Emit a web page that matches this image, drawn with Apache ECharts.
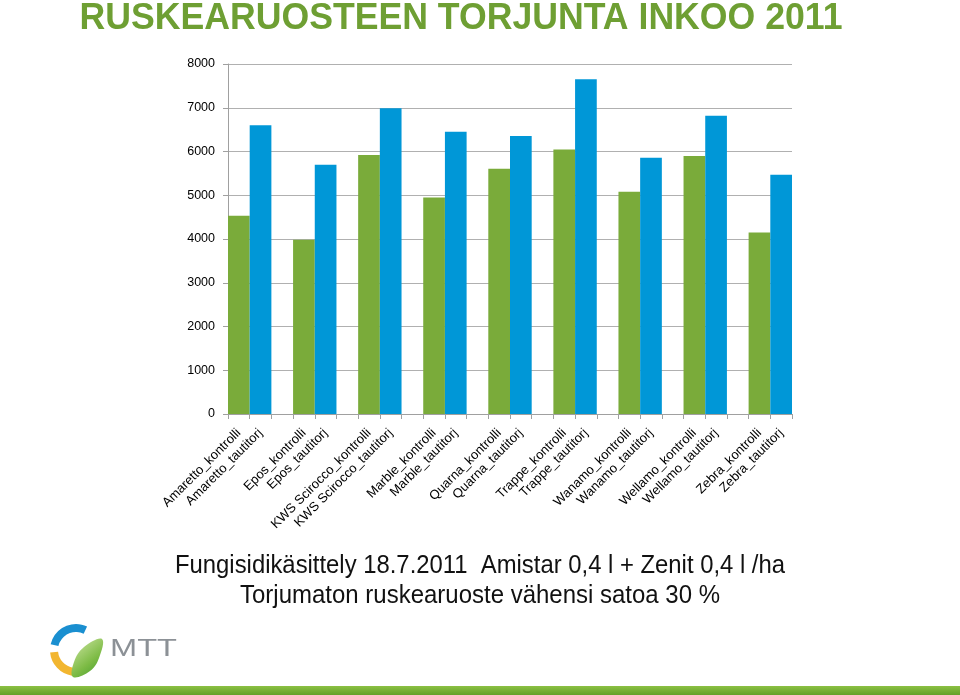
<!DOCTYPE html>
<html>
<head>
<meta charset="utf-8">
<script src="https://cdn.jsdelivr.net/npm/echarts@6/dist/echarts.min.js"></script>
<style>html,body{margin:0;padding:0;background:#fff;}#main{width:960px;height:695px;}</style>
</head>
<body>
<div id="main"></div>
<script>
var varieties = ['Amaretto', 'Epos', 'KWS Scirocco', 'Marble', 'Quarna', 'Trappe', 'Wanamo', 'Wellamo', 'Zebra'];
var kontrolli = [4530, 3985, 5920, 4950, 5605, 6045, 5080, 5900, 4150];
var tautitorj = [6600, 5700, 6990, 6450, 6355, 7650, 5860, 6820, 5470];
var yTicks = [0, 1000, 2000, 3000, 4000, 5000, 6000, 7000, 8000];
var titleText = 'RUSKEARUOSTEEN TORJUNTA INKOO 2011';
var subLine1 = 'Fungisidikäsittely 18.7.2011  Amistar 0,4 l + Zenit 0,4 l /ha';
var subLine2 = 'Torjumaton ruskearuoste vähensi satoa 30 %';

var categories = [], kData = [], tData = [];
varieties.forEach(function (v, i) {
  categories.push(v + '_kontrolli'); kData.push(kontrolli[i]); tData.push(null);
  categories.push(v + '_tautitorj'); kData.push(null); tData.push(tautitorj[i]);
  if (i < varieties.length - 1) { categories.push(' '.repeat(i + 1)); kData.push(null); tData.push(null); }
});

var ctx = document.createElement('canvas').getContext('2d');
function textWidth(t, font) { ctx.font = font; return ctx.measureText(t).width; }
var titleFont = 'bold 36px "Liberation Sans"';
var subFont = '25px "Liberation Sans"';
var mttFont = '23px "Liberation Sans"';
var titleScale = 763 / textWidth(titleText, titleFont);
var sub1Scale = 610 / textWidth(subLine1, subFont);
var sub2Scale = 480 / textWidth(subLine2, subFont);
var mttScale = 67 / textWidth('MTT', mttFont);

var chart = echarts.init(document.getElementById('main'));
chart.setOption({
  animation: false,
  grid: { left: 228, right: 168, top: 64, bottom: 281, containLabel: false },
  xAxis: {
    type: 'category', data: categories,
    axisLine: { lineStyle: { color: '#a0a0a0', width: 1 } },
    axisTick: { show: true, interval: 0, alignWithLabel: false, length: 5, lineStyle: { color: '#a0a0a0' } },
    axisLabel: { interval: 0, rotate: 45, fontFamily: 'Liberation Sans', fontSize: 13, color: '#000', margin: 17 }
  },
  yAxis: {
    type: 'value', min: yTicks[0], max: yTicks[yTicks.length - 1], interval: 1000,
    axisLine: { show: true, lineStyle: { color: '#a0a0a0' } },
    axisTick: { show: true, length: 5, lineStyle: { color: '#a0a0a0' } },
    splitLine: { lineStyle: { color: '#b0b0b0', width: 1 } },
    axisLabel: { fontFamily: 'Liberation Sans', fontSize: 12.5, color: '#000', margin: 13,
      formatter: function (v) { return String(v); } }
  },
  series: [{
    name: 'kontrolli', type: 'bar', data: kData, barCategoryGap: '0%', barGap: '-100%',
    itemStyle: { color: '#7aab3a' }
  }, {
    name: 'tautitorj', type: 'bar', data: tData, barCategoryGap: '0%', barGap: '-100%',
    itemStyle: { color: '#0097d7' }
  }],
  graphic: [
    { type: 'text', x: 461, y: 19, scaleX: titleScale,
      style: { text: titleText, font: titleFont, fill: '#6e9f33', align: 'center', verticalAlign: 'middle' } },
    { type: 'text', x: 480, y: 566, scaleX: sub1Scale,
      style: { text: subLine1, font: subFont, fill: '#111', align: 'center', verticalAlign: 'middle' } },
    { type: 'text', x: 480, y: 596, scaleX: sub2Scale,
      style: { text: subLine2, font: subFont, fill: '#111', align: 'center', verticalAlign: 'middle' } },
    { type: 'rect', x: 0, y: 686, shape: { x: 0, y: 0, width: 960, height: 9 },
      style: { fill: new echarts.graphic.LinearGradient(0, 0, 0, 1, [{ offset: 0, color: '#8cc043' }, { offset: 1, color: '#62a02a' }]) } },
    { type: 'sector', shape: { cx: 76, cy: 650, r0: 18, r: 26, startAngle: -Math.PI * 0.93, endAngle: -Math.PI * 0.36 },
      style: { fill: '#1a8fd0' } },
    { type: 'sector', shape: { cx: 76, cy: 650, r0: 18, r: 26, startAngle: Math.PI * 0.55, endAngle: Math.PI * 0.97 },
      style: { fill: '#f2b630' } },
    { type: 'polygon', shape: { smooth: 0.4, points: [[73, 677], [74, 662], [84, 647], [102, 639], [99, 658], [90, 671]] },
      style: { fill: new echarts.graphic.LinearGradient(0, 0, 1, 1, [{ offset: 0, color: '#d2e8a8' }, { offset: 0.6, color: '#7dbb45' }, { offset: 1, color: '#3f9a2a' }]) } },
    { type: 'text', x: 110, y: 650, scaleX: mttScale,
      style: { text: 'MTT', font: mttFont, fill: '#8c9196', verticalAlign: 'middle' } }
  ]
});
</script>
</body>
</html>
